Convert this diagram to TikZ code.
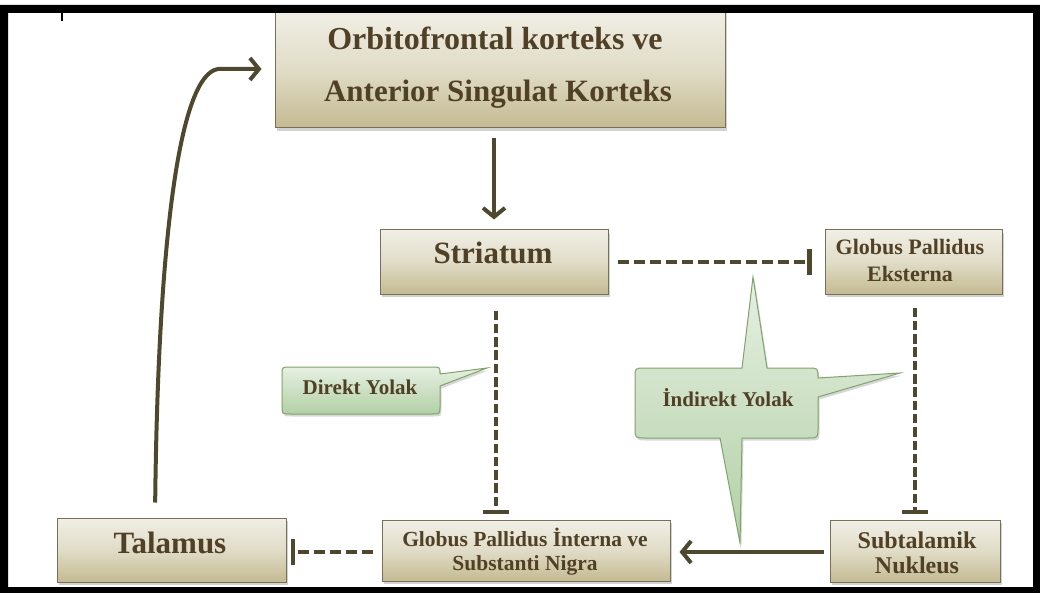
\documentclass[tikz,border=0pt]{standalone}
\usepackage{fontspec}
\setmainfont{Liberation Serif}
\usetikzlibrary{arrows.meta,shadows}
\definecolor{linec}{RGB}{78,73,46}
\definecolor{txtc}{RGB}{80,64,38}
\definecolor{boxtop}{RGB}{241,239,230}
\definecolor{boxmid}{RGB}{224,220,199}
\definecolor{boxbot}{RGB}{196,186,146}
\definecolor{boxline}{RGB}{118,112,86}
\definecolor{caltop}{RGB}{230,240,226}
\definecolor{calbot}{RGB}{178,208,166}
\definecolor{calline}{RGB}{128,162,108}
\tikzset{
  box/.style={draw=boxline, line width=1pt, top color=boxtop, bottom color=boxbot, middle color=boxmid,
    inner sep=0pt, drop shadow={shadow xshift=2pt, shadow yshift=-3pt, opacity=0.35}},
  txt/.style={text=txtc, inner sep=0pt, anchor=base},
  callout/.style={draw=calline, line width=1pt, top color=caltop, bottom color=calbot,
    drop shadow={shadow xshift=1.5pt, shadow yshift=-2.5pt, opacity=0.3}},
  arr/.style={draw=linec, line width=4pt, -{Straight Barb[length=9pt,width=22pt]}},
  inh/.style={draw=linec, line width=4.2pt, dash pattern=on 11pt off 5pt, -{Bar[width=26pt]}},
  inhv/.style={draw=linec, line width=4pt, dash pattern=on 9.5pt off 3.8pt, -{Bar[width=26pt]}},
}
\begin{document}
\begin{tikzpicture}[x=1pt,y=-1pt]
\useasboundingbox (0,0) rectangle (1040,593);
\fill[white] (0,0) rectangle (1040,593);

% boxes
\node[box, minimum width=450pt, minimum height=118pt] (ofc) at (500,69) {};
\node[box, minimum width=228pt, minimum height=64pt] (str) at (494,262) {};
\node[box, minimum width=177pt, minimum height=64pt] (gpe) at (913.5,262) {};
\node[box, minimum width=229pt, minimum height=64pt] (tal) at (171.5,550) {};
\node[box, minimum width=288pt, minimum height=61pt] (gpi) at (526,550.5) {};
\node[box, minimum width=170pt, minimum height=62pt] (stn) at (915,551) {};

% helper coordinates
\coordinate (dx) at (496,0);
\coordinate (c1) at (155,0);
\coordinate (c2) at (218,69);

% connectors
\draw[arr, shorten <=10pt, shorten >=10pt] (ofc.south -| str.north) -- (str.north);
\draw[inh, shorten <=9pt, shorten >=13pt] (str.east) -- (gpe.west);
\draw[inhv, shorten <=16pt, shorten >=6pt] (str.south -| dx) -- (gpi.north -| dx);
\draw[inhv, shorten <=13pt, shorten >=6pt] (gpe.south -| stn.north) -- (stn.north);
\draw[arr, shorten <=6pt, shorten >=9pt] (stn.west |- 0,552) -- (gpi.east |- 0,552);
\draw[inh, shorten <=9pt, shorten >=4pt] (gpi.west |- 0,552) -- (tal.east |- 0,552);
\draw[arr, shorten <=15pt, shorten >=13pt] (tal.north -| c1) .. controls (158,250) and (178,75) .. (c2) -- (ofc.west |- c2);

% callouts
\path[callout] (290,367) -- (432,367) .. controls (440,367) .. (440,374) -- (487,368) -- (440,386)
  -- (440,406) .. controls (440,414) .. (432,414) -- (290,414) .. controls (282,414) .. (282,406)
  -- (282,375) .. controls (282,367) .. (290,367) -- cycle;
\path[callout] (645,368) -- (742,368) -- (753,277) -- (767,368) -- (808,368) .. controls (818,368) .. (818,378)
  -- (900,373) -- (818,397) -- (818,428) .. controls (818,438) .. (808,438) -- (742,438) -- (740,543)
  -- (720,438) -- (645,438) .. controls (635,438) .. (635,428) -- (635,378) .. controls (635,368) .. (645,368) -- cycle;

% texts
\node[txt, font=\bfseries\fontsize{32}{38}\selectfont] (t-ofc1) at (495,50) {Orbitofrontal korteks ve};
\node[txt, font=\bfseries\fontsize{31}{38}\selectfont] (t-ofc2) at (498,102) {Anterior Singulat Korteks};
\node[txt, font=\bfseries\fontsize{31}{38}\selectfont] (t-str) at (493,264) {Striatum};
\node[txt, font=\bfseries\fontsize{22}{26}\selectfont] (t-gpe1) at (910,255) {Globus Pallidus};
\node[txt, font=\bfseries\fontsize{22}{26}\selectfont] (t-gpe2) at (910,282) {Eksterna};
\node[txt, font=\bfseries\fontsize{31}{38}\selectfont] (t-tal) at (170,553) {Talamus};
\node[txt, font=\bfseries\fontsize{21.5}{26}\selectfont] (t-gpi1) at (525,546) {Globus Pallidus İnterna ve};
\node[txt, font=\bfseries\fontsize{21.5}{26}\selectfont] (t-gpi2) at (525,570) {Substanti Nigra};
\node[txt, font=\bfseries\fontsize{24}{28}\selectfont] (t-stn1) at (917,548) {Subtalamik};
\node[txt, font=\bfseries\fontsize{24}{28}\selectfont] (t-stn2) at (917,573) {Nukleus};
\node[txt, font=\bfseries\fontsize{21}{26}\selectfont] (t-dir) at (360,394) {Direkt Yolak};
\node[txt, font=\bfseries\fontsize{21}{26}\selectfont] (t-ind) at (728,406) {İndirekt Yolak};

% frame
\fill[white] (0,0) rectangle (1040,5);
\fill[black, even odd rule] (0,5) rectangle (1040,593) (8,13) rectangle (1033,587);
\draw[black, line width=1.2pt] (62,13) -- (62,21);
\end{tikzpicture}
\end{document}
